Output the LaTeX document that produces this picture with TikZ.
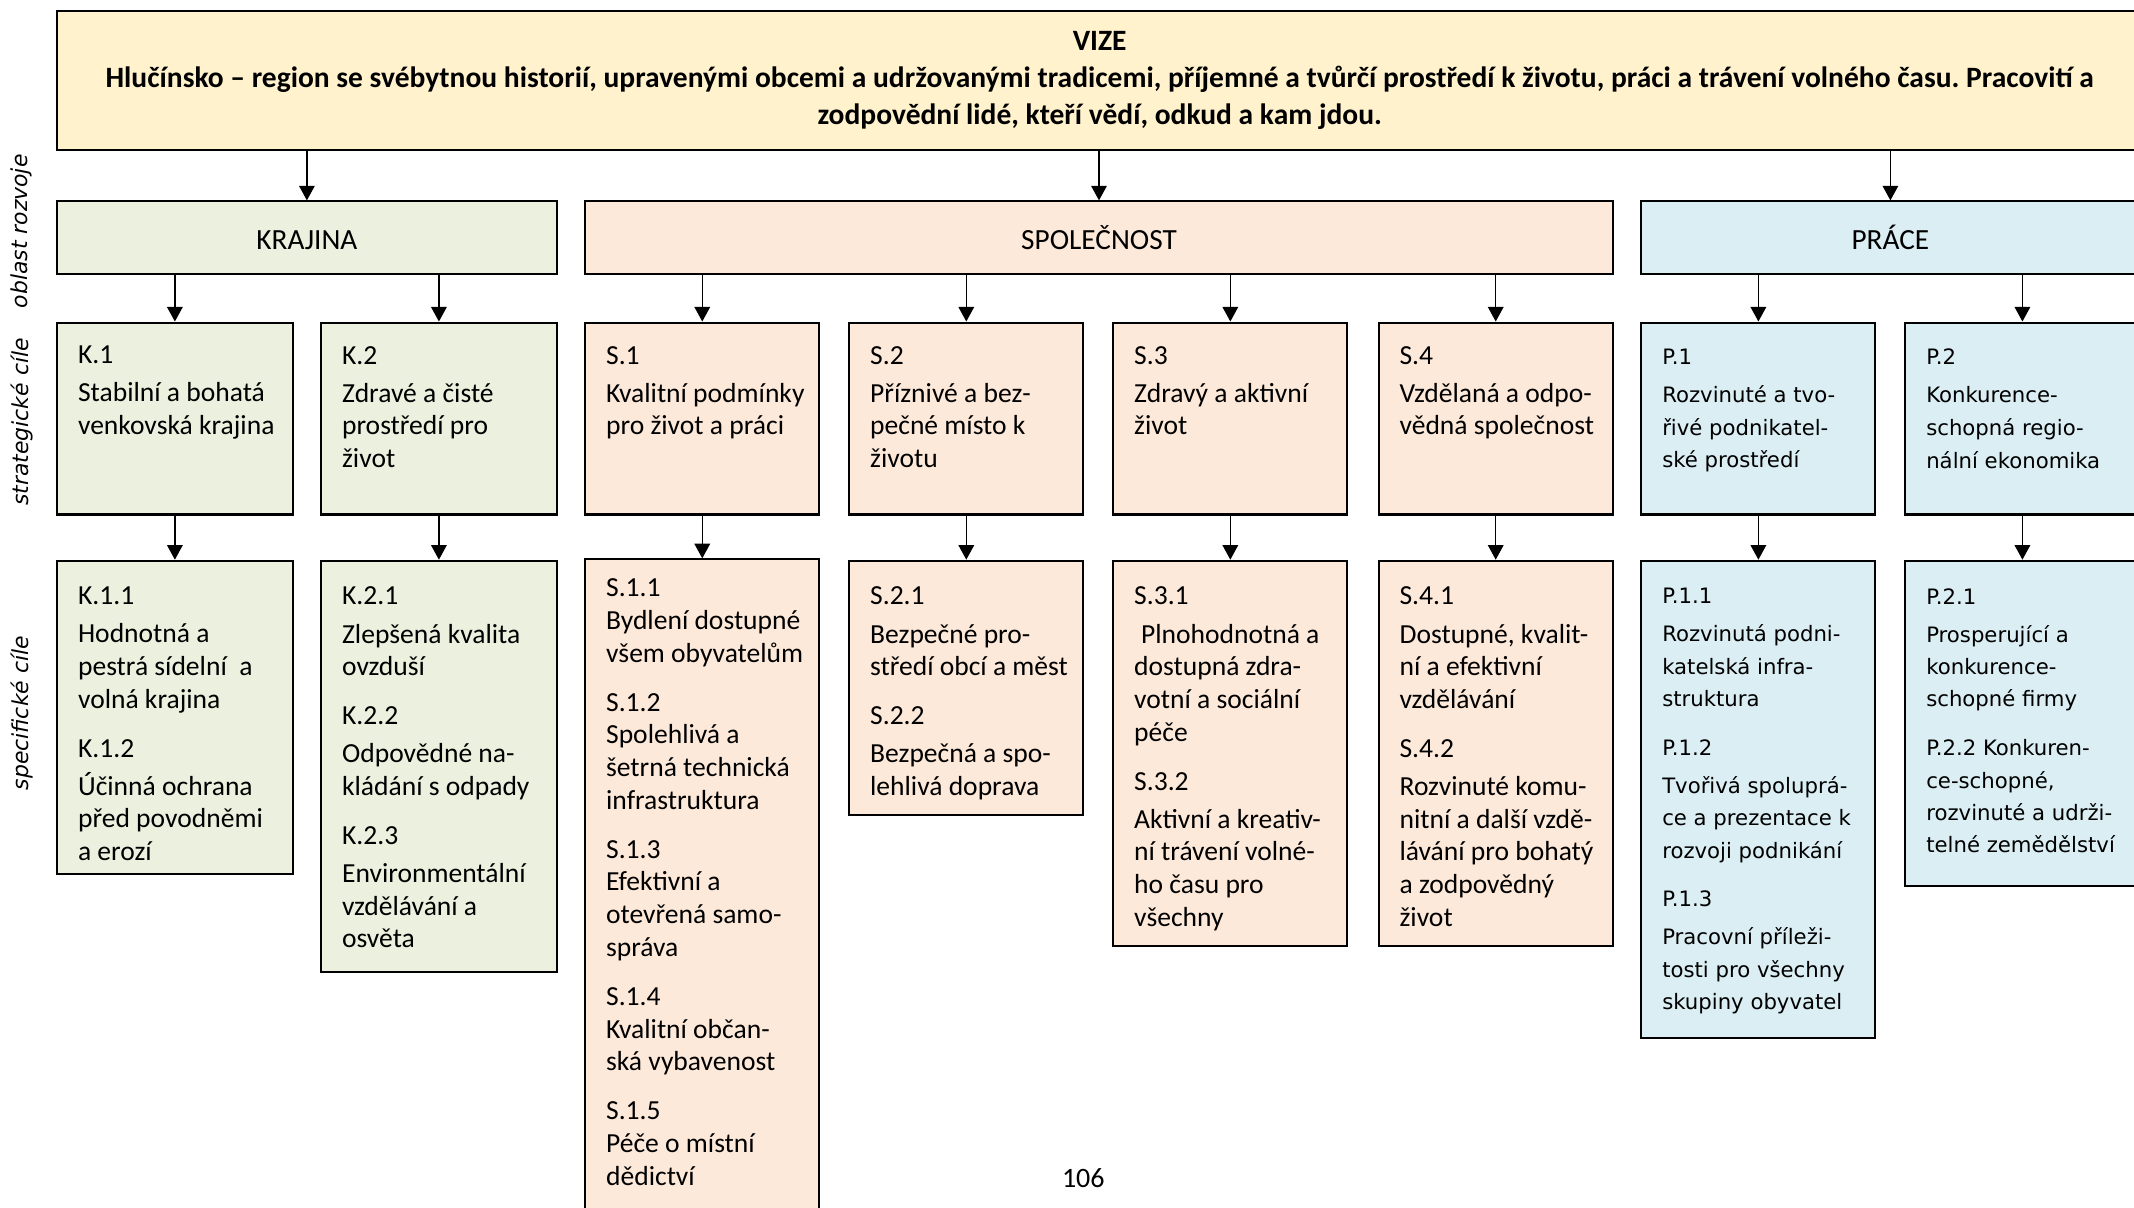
\documentclass[tikz,border=0pt]{standalone}
\usepackage{fontspec}
\setmainfont{Carlito}
\newfontfamily\verd{DejaVu Sans}
\usetikzlibrary{arrows.meta,fit}
\frenchspacing
\definecolor{vizefill}{HTML}{FFF2CC}
\definecolor{krfill}{HTML}{EBF1DE}
\definecolor{spfill}{HTML}{FDE9D9}
\definecolor{prfill}{HTML}{DAEEF3}
\newcommand\LGap{\\[2.2pt]}
\newcommand\PGap{\\[6.7pt]}
\tikzset{
  box/.style={draw=black, line width=0.85pt, inner sep=0pt, rectangle},
  conn/.style={line width=0.6pt, -{Triangle[length=6pt,width=6.4pt]}},
  txt/.style={anchor=north west, inner sep=0pt, align=left, font=\fontsize{11.3}{13.4}\selectfont},
  ptxt/.style={anchor=north west, inner sep=0pt, align=left, font=\verd\fontsize{8.7}{13.4}\selectfont},
  pxtxt/.style={anchor=north west, inner sep=0pt, align=left, font=\verd\fontsize{8.7}{13.3}\selectfont},
  side/.style={rotate=90, inner sep=0pt, font=\verd\itshape\fontsize{9}{10}\selectfont},
  lvl/.style={inner sep=0pt, anchor=base, font=\fontsize{12}{14}\selectfont}
}
\begin{document}
\begin{tikzpicture}[x=0.558pt, y=-0.558pt]
\useasboundingbox (0,0) rectangle (1568,887);
\clip (0,0) rectangle (1568,887);
\fill[white] (0,0) rectangle (1568,887);

% VIZE
\node[box, fill=vizefill, fit={(42,8) (1580,110)}] (vize) {};
\node[anchor=north, inner sep=0pt, align=center, font=\bfseries\fontsize{12.1}{15}\selectfont] (vizet) at (808,23)
 {VIZE\\Hlučínsko – region se svébytnou historií, upravenými obcemi a udržovanými tradicemi, příjemné a tvůrčí prostředí k životu, práci a trávení volného času. Pracovití a\\zodpovědní lidé, kteří vědí, odkud a kam jdou.};

% level boxes
\node[box, fill=krfill, fit={(42,148) (409,201)}] (krajina) {};
\node[box, fill=spfill, fit={(430,148) (1185,201)}] (spol) {};
\node[box, fill=prfill, fit={(1206,148) (1572,201)}] (prace) {};
\node[lvl] (krajinat) at (krajina.center |- 0,183) {KRAJINA};
\node[lvl] (spolt) at (spol.center |- 0,183) {SPOLEČNOST};
\node[lvl] (pracet) at (prace.center |- 0,183) {PRÁCE};

% strategic boxes
\node[box, fill=krfill, fit={(42,237) (215,378)}] (k1) {};
\node[box, fill=krfill, fit={(236,237) (409,378)}] (k2) {};
\node[box, fill=spfill, fit={(430,237) (602,378)}] (s1) {};
\node[box, fill=spfill, fit={(624,237) (796,378)}] (s2) {};
\node[box, fill=spfill, fit={(818,237) (990,378)}] (s3) {};
\node[box, fill=spfill, fit={(1013,237) (1185,378)}] (s4) {};
\node[box, fill=prfill, fit={(1206,237) (1378,378)}] (p1) {};
\node[box, fill=prfill, fit={(1400,237) (1572,378)}] (p2) {};

% specific boxes
\node[box, fill=krfill, fit={(42,412) (215,642)}] (k1x) {};
\node[box, fill=krfill, fit={(236,412) (409,714)}] (k2x) {};
\node[box, fill=spfill, fit={(430,411) (602,900)}] (s1x) {};
\node[box, fill=spfill, fit={(624,412) (796,599)}] (s2x) {};
\node[box, fill=spfill, fit={(818,412) (990,695)}] (s3x) {};
\node[box, fill=spfill, fit={(1013,412) (1185,695)}] (s4x) {};
\node[box, fill=prfill, fit={(1206,412) (1378,763)}] (p1x) {};
\node[box, fill=prfill, fit={(1400,412) (1572,651)}] (p2x) {};

% connectors
\draw[conn] (vize.south -| krajina.north) -- (krajina.north);
\draw[conn] (vize.south -| spol.north) -- (spol.north);
\draw[conn] (vize.south -| prace.north) -- (prace.north);
\foreach \a/\b in {krajina/k1, krajina/k2, spol/s1, spol/s2, spol/s3, spol/s4, prace/p1, prace/p2}
  \draw[conn] (\a.south -| \b.north) -- (\b.north);
\foreach \a in {k1, k2, s1, s2, s3, s4, p1, p2}
  \draw[conn] (\a.south) -- (\a x.north);

% strategic texts
\node[txt] (k1t) at (57,254) {K.1\LGap Stabilní a bohatá\\venkovská krajina};
\node[txt] (k2t) at (251,254) {K.2\LGap Zdravé a čisté\\prostředí pro\\život};
\node[txt] (s1t) at (445,254) {S.1\LGap Kvalitní podmínky\\pro život a práci};
\node[txt] (s2t) at (639,254) {S.2\LGap Příznivé a bez-\\pečné místo k\\životu};
\node[txt] (s3t) at (833,254) {S.3\LGap Zdravý a aktivní\\život};
\node[txt] (s4t) at (1028,254) {S.4\LGap Vzdělaná a odpo-\\vědná společnost};
\node[ptxt] (p1t) at (1221,256) {P.1\LGap Rozvinuté a tvo-\\řivé podnikatel-\\ské prostředí};
\node[ptxt] (p2t) at (1415,256) {P.2\LGap Konkurence-\\schopná regio-\\nální ekonomika};

% specific texts
\node[txt] (k1xt) at (57,431) {K.1.1\LGap Hodnotná a\\pestrá sídelní\ \ a\\volná krajina\PGap K.1.2\LGap Účinná ochrana\\před povodněmi\\a erozí};
\node[txt] (k2xt) at (251,431) {K.2.1\LGap Zlepšená kvalita\\ovzduší\PGap K.2.2\LGap Odpovědné na-\\kládání s odpady\PGap K.2.3\LGap Environmentální\\vzdělávání a\\osvěta};
\node[txt] (s1xt) at (445,425) {S.1.1\\Bydlení dostupné\\všem obyvatelům\PGap S.1.2\\Spolehlivá a\\šetrná technická\\infrastruktura\PGap S.1.3\\Efektivní a\\otevřená samo-\\správa\PGap S.1.4\\Kvalitní občan-\\ská vybavenost\PGap S.1.5\\Péče o místní\\dědictví};
\node[txt] (s2xt) at (639,431) {S.2.1\LGap Bezpečné pro-\\středí obcí a měst\PGap S.2.2\LGap Bezpečná a spo-\\lehlivá doprava};
\node[txt] (s3xt) at (833,431) {S.3.1\LGap \hspace*{0.25em}Plnohodnotná a\\dostupná zdra-\\votní a sociální\\péče\PGap S.3.2\LGap Aktivní a kreativ-\\ní trávení volné-\\ho času pro\\všechny};
\node[txt] (s4xt) at (1028,431) {S.4.1\LGap Dostupné, kvalit-\\ní a efektivní\\vzdělávání\PGap S.4.2\LGap Rozvinuté komu-\\nitní a další vzdě-\\lávání pro bohatý\\a zodpovědný\\život};
\node[pxtxt] (p1xt) at (1221,432) {P.1.1\LGap Rozvinutá podni-\\katelská infra-\\struktura\PGap P.1.2\LGap Tvořivá spoluprá-\\ce a prezentace k\\rozvoji podnikání\PGap P.1.3\LGap Pracovní příleži-\\tosti pro všechny\\skupiny obyvatel};
\node[pxtxt] (p2xt) at (1415,432) {P.2.1\LGap Prosperující a\\konkurence-\\schopné firmy\PGap P.2.2 Konkuren-\\ce-schopné,\\rozvinuté a udrži-\\telné zemědělství};

% side labels
\node[side] (lab1) at (16,170) {oblast rozvoje};
\node[side] (lab2) at (16,310) {strategické cíle};
\node[side] (lab3) at (16,524) {specifické cíle};

% page number
\node[inner sep=0pt, font=\fontsize{11.5}{13.4}\selectfont] (pg) at (796,866) {106};
\end{tikzpicture}
\end{document}
